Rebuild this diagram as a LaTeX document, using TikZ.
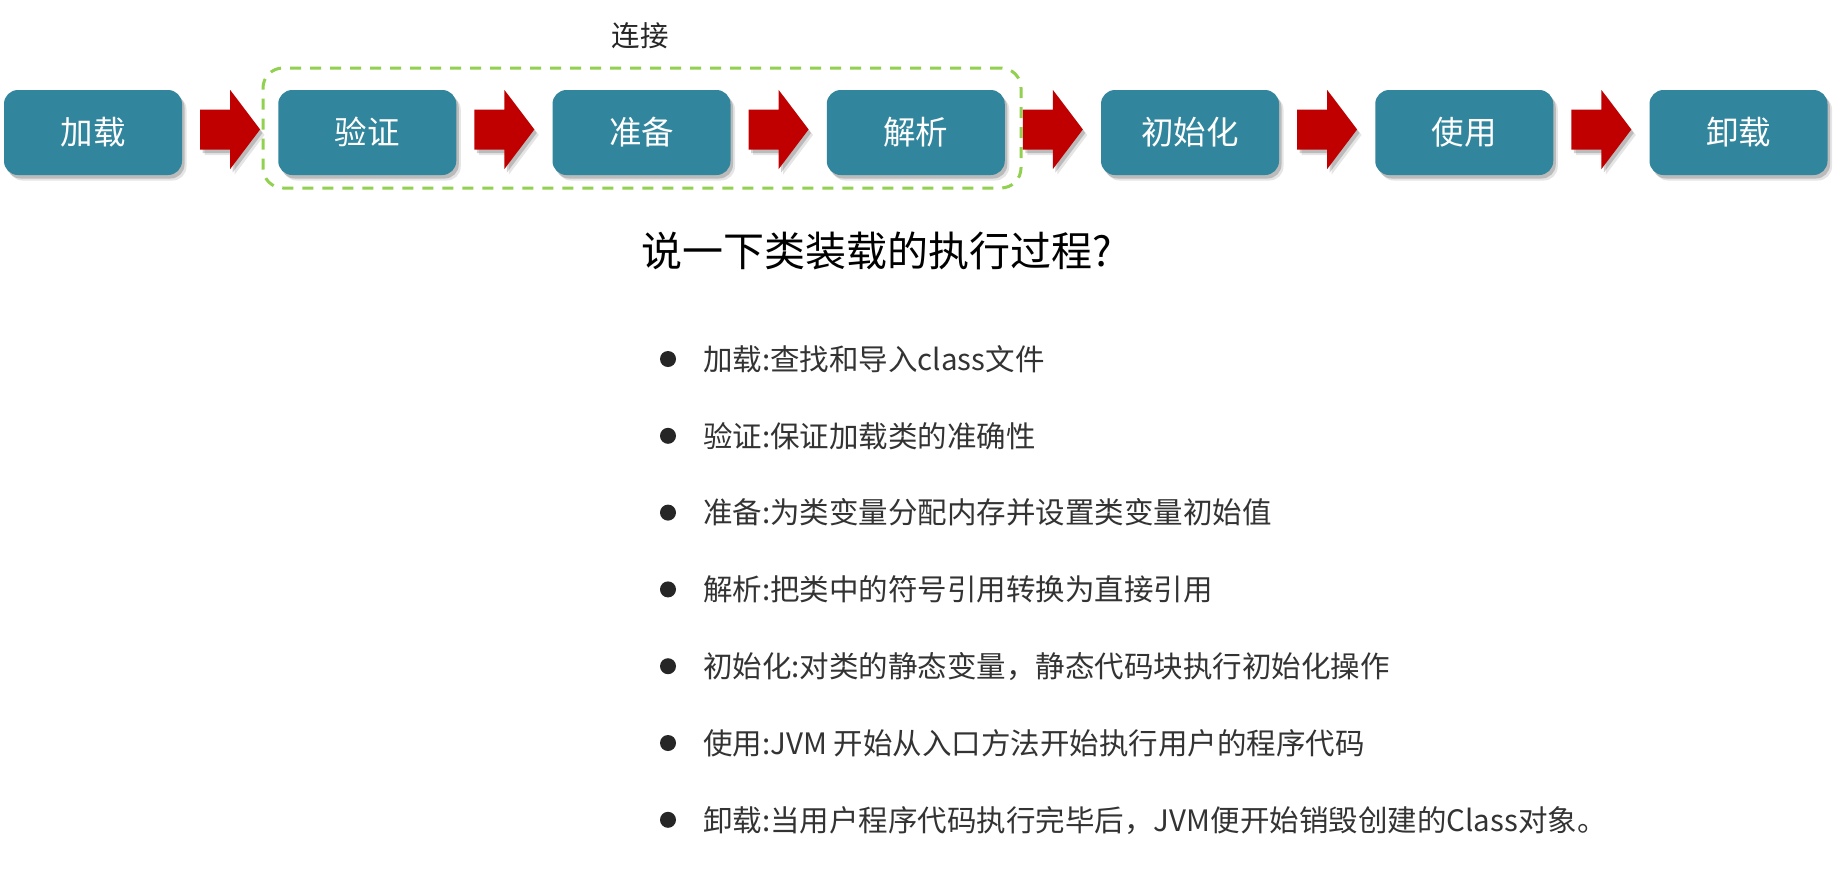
\documentclass[tikz,border=0pt]{standalone}
\usepackage{fontspec}
\setmainfont{Noto Sans CJK SC}
\usetikzlibrary{shadows}
\definecolor{boxteal}{HTML}{31859C}
\definecolor{arrowred}{HTML}{C00000}
\definecolor{dashgreen}{HTML}{92D050}
\definecolor{bodytext}{HTML}{333333}
\definecolor{dotcol}{HTML}{262626}
\begin{document}
\begin{tikzpicture}[x=1pt,y=-1pt,
  softshadow/.style={drop shadow={shadow xshift=4.5pt,shadow yshift=-5.5pt,opacity=.10,fill=black},
                     drop shadow={shadow xshift=2.5pt,shadow yshift=-3.5pt,opacity=.18,fill=black}},
  stagebox/.style={fill=boxteal, rounded corners=14pt, minimum width=178pt, minimum height=85pt,
                   inner sep=0pt, text=white, font=\fontsize{32.5}{36}\selectfont, softshadow,
                   text height=27pt, text depth=2.3pt},
  blockarrow/.style={fill=arrowred, softshadow},
  connbox/.style={draw=dashgreen, line width=3pt, dash pattern=on 11pt off 9pt, rounded corners=20pt,
                  minimum width=758pt, minimum height=120pt, inner sep=0pt},
  conntext/.style={inner sep=0pt, text=dotcol, font=\fontsize{28.5}{32}\selectfont,
                   text height=23.7pt, text depth=2pt},
  titletext/.style={inner sep=0pt, anchor=west, font=\fontsize{41}{46}\selectfont,
                    text height=34pt, text depth=2.9pt},
  bullettext/.style={inner sep=0pt, anchor=west, text=bodytext, font=\fontsize{29.5}{33}\selectfont,
                     text height=24.5pt, text depth=2.1pt},
  bulletdot/.style={circle, fill=dotcol, minimum size=16pt, inner sep=0pt}
]
\useasboundingbox[fill=white] (0,0) rectangle (1840,879);

% dashed group "连接"
\node[connbox] (conn) at (642,128) {};
\node[conntext] (connlabel) at (640,36) {连接};

% stage boxes
\node[stagebox] (b1) at (93,132.5) {加载};
\node[stagebox] (b2) at (367.25,132.5) {验证};
\node[stagebox] (b3) at (641.5,132.5) {准备};
\node[stagebox] (b4) at (915.75,132.5) {解析};
\node[stagebox] (b5) at (1190,132.5) {初始化};
\node[stagebox] (b6) at (1464.25,132.5) {使用};
\node[stagebox] (b7) at (1738.5,132.5) {卸载};

% block arrows between consecutive boxes
\foreach \a/\b in {b1/b2,b2/b3,b3/b4,b4/b5,b5/b6,b6/b7}{
  \fill[blockarrow] ([shift={(18,-23)}]\a.east) -- ([shift={(48,-23)}]\a.east)
     -- ([shift={(48,-42.5)}]\a.east) -- ([shift={(-18,-3)}]\b.west)
     -- ([shift={(48,36.5)}]\a.east) -- ([shift={(48,17)}]\a.east)
     -- ([shift={(18,17)}]\a.east) -- cycle;
}

% title
\node[titletext] (title) at (641,251) {说一下类装载的执行过程?};

% bullet list
\foreach \i/\t in {0/{加载:查找和导入class文件},
                   1/{验证:保证加载类的准确性},
                   2/{准备:为类变量分配内存并设置类变量初始值},
                   3/{解析:把类中的符号引用转换为直接引用},
                   4/{初始化:对类的静态变量，静态代码块执行初始化操作},
                   5/{使用:JVM 开始从入口方法开始执行用户的程序代码},
                   6/{卸载:当用户程序代码执行完毕后，JVM便开始销毁创建的Class对象。}}{
  \node[bulletdot] (dot\i) at (668,359+76.8*\i) {};
  \node[bullettext] (item\i) at (703,359+76.8*\i) {\t};
}
\end{tikzpicture}
\end{document}
